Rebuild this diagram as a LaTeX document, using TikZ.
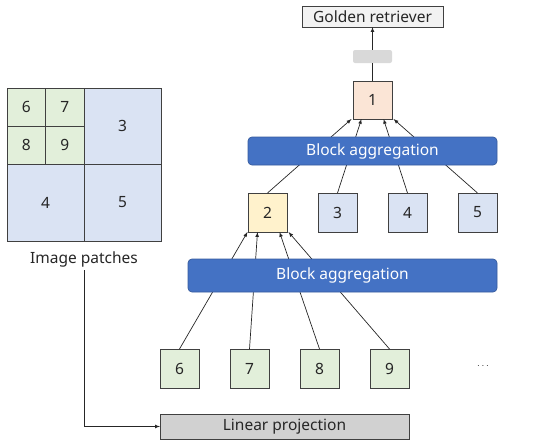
\documentclass[tikz,border=0pt]{standalone}
\usepackage{fontspec}
\setmainfont{Noto Sans}
\usepackage{xcolor}
\usetikzlibrary{positioning}
\definecolor{patchgreen}{HTML}{E2EFDA}
\definecolor{patchblue}{HTML}{DAE3F3}
\definecolor{rootpeach}{HTML}{FBE5D6}
\definecolor{midyellow}{HTML}{FFF2CC}
\definecolor{aggblue}{HTML}{4472C4}
\definecolor{edgegray}{HTML}{404040}

\begin{document}
\begin{tikzpicture}[x=1pt, y=-1pt, line width=0.7pt,
  every node/.style={font=\fontsize{15.5}{18}\selectfont, text=black!85},
  tok/.style={draw=edgegray, minimum width=39pt, minimum height=39pt, inner sep=0pt, outer sep=0pt},
  cell/.style={draw=edgegray, inner sep=0pt, outer sep=0pt},
  agg/.style={draw=aggblue!80!black, fill=aggblue, rounded corners=4pt, text=white, inner sep=0pt, outer sep=0pt},
  link/.style={draw=black!85, -latex}]
\useasboundingbox (0,0) rectangle (550,445);

% image patches
\node[cell, fill=patchblue, minimum width=77pt, minimum height=76pt] (q3) at (122.5,126) {3};
\node[cell, fill=patchblue, minimum width=77pt, minimum height=77pt] (q4) at (45.5,202.5) {4};
\node[cell, fill=patchblue, minimum width=77pt, minimum height=77pt] (q5) at (122.5,202.5) {5};
\node[cell, fill=patchgreen, minimum width=38.5pt, minimum height=38pt] (q6) at (26.25,107) {6};
\node[cell, fill=patchgreen, minimum width=38.5pt, minimum height=38pt] (q7) at (64.75,107) {7};
\node[cell, fill=patchgreen, minimum width=38.5pt, minimum height=38pt] (q8) at (26.25,145) {8};
\node[cell, fill=patchgreen, minimum width=38.5pt, minimum height=38pt] (q9) at (64.75,145) {9};
\node (patches) at (84,259) {Image patches};

% linear projection
\node[draw=edgegray, fill=black!18, minimum width=249pt, minimum height=25pt, inner sep=0pt, outer sep=0pt] (proj) at (284.5,426.5) {Linear projection};
\draw[link] (patches.south) |- (proj.west);

% leaf tokens
\node[tok, fill=patchgreen] (t6) at (179.5,368.5) {6};
\node[tok, fill=patchgreen] (t7) at (249.5,368.5) {7};
\node[tok, fill=patchgreen] (t8) at (319.5,368.5) {8};
\node[tok, fill=patchgreen] (t9) at (389.5,368.5) {9};
\node (more) at (483,366) {\fontsize{10}{12}\selectfont$\cdots$};

% middle tokens
\node[tok, fill=midyellow] (t2) at (267.5,212.5) {2};
\node[tok, fill=patchblue] (t3) at (337.5,212.5) {3};
\node[tok, fill=patchblue] (t4) at (407.5,212.5) {4};
\node[tok, fill=patchblue] (t5) at (477.5,212.5) {5};

% root token and output
\node[tok, fill=rootpeach, minimum height=38pt] (t1) at (372.5,100) {1};
\node[fill=black!15, rounded corners=2pt, minimum width=39pt, minimum height=13pt, inner sep=0pt] (pool) at (372.5,56.5) {};
\node[draw=edgegray, fill=black!5, minimum width=141pt, minimum height=21pt, inner sep=0pt, outer sep=0pt] (label) at (372.5,16.5) {Golden retriever};

% links through the aggregation bars
\draw[link] (t6.north) -- ([xshift=-20pt]t2.south);
\draw[link] (t7.north) -- ([xshift=-10pt]t2.south);
\draw[link] (t8.north) -- ([xshift=12pt]t2.south);
\draw[link] (t9.north) -- ([xshift=21pt]t2.south);
\draw[link] (t2.north) -- ([xshift=-21pt]t1.south);
\draw[link] (t3.north) -- ([xshift=-11pt]t1.south);
\draw[link] (t4.north) -- ([xshift=11pt]t1.south);
\draw[link] (t5.north) -- ([xshift=21pt]t1.south);
\draw[black!85] (t1.north) -- (pool.south);
\draw[link] (pool.north) -- (label.south);

\node[agg, minimum width=309pt, minimum height=33pt] (agglow) at (342.5,275.5) {Block aggregation};
\node[agg, minimum width=249pt, minimum height=28pt] (agghigh) at (372.5,151) {Block aggregation};
\end{tikzpicture}
\end{document}
